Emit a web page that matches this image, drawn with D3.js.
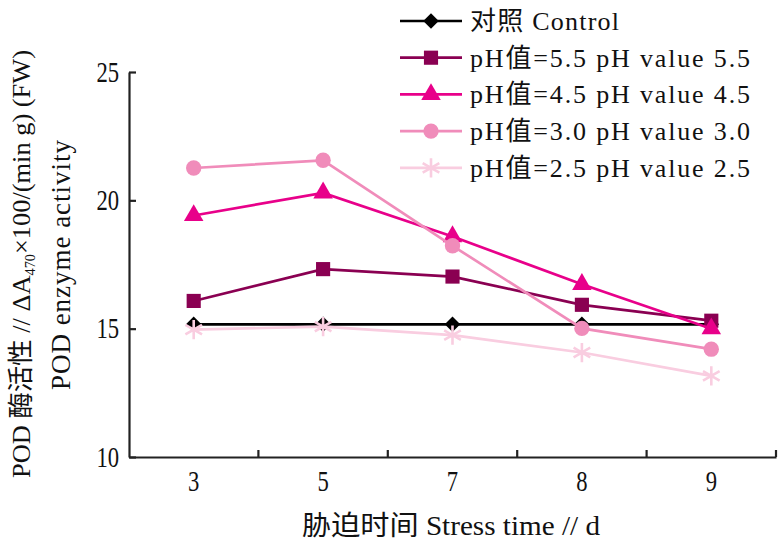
<!DOCTYPE html>
<html>
<head>
<meta charset="utf-8">
<script src="https://cdn.jsdelivr.net/npm/d3@7"></script>
<style>
  body { margin: 0; background: #fff; }
  text { font-family: "Liberation Serif", "Noto Sans CJK SC", serif; fill: #111; }
</style>
</head>
<body>
<script>
// stress days (categories)
var days = ["3", "5", "7", "8", "9"];
var yTicks = [10, 15, 20, 25];

// POD activity per treatment
var control = [15.17, 15.17, 15.17, 15.17, 15.17];
var ph55 = [16.08, 17.32, 17.03, 15.93, 15.31];
var ph45 = [19.41, 20.29, 18.59, 16.73, 15.0];
var ph30 = [21.26, 21.56, 18.23, 15.01, 14.2];
var ph25 = [14.96, 15.08, 14.75, 14.07, 13.16];

var legendNames = ["对照 Control", "pH值=5.5 pH value 5.5", "pH值=4.5 pH value 4.5",
  "pH值=3.0 pH value 3.0", "pH值=2.5 pH value 2.5"];

var series = [
  { name: legendNames[0], values: control, color: "#000000", shape: "diamond" },
  { name: legendNames[1], values: ph55, color: "#8a0052", shape: "square" },
  { name: legendNames[2], values: ph45, color: "#e8008a", shape: "triangle" },
  { name: legendNames[3], values: ph30, color: "#f08cba", shape: "circle" },
  { name: legendNames[4], values: ph25, color: "#f9cde0", shape: "asterisk" }
];

var W = 778, H = 544;
var svg = d3.select("body").append("svg").attr("width", W).attr("height", H);

var x = d3.scaleBand().domain(days).range([129, 776]);
var y = d3.scaleLinear().domain([10, 25]).range([457, 72]);

// squeeze text horizontally (narrow song-style glyphs)
function squeeze(sel, f) {
  sel.each(function () {
    var l = this.getComputedTextLength();
    d3.select(this).attr("textLength", l * f).attr("lengthAdjust", "spacingAndGlyphs");
  });
}

// x axis
var xAxis = svg.append("g")
  .attr("transform", `translate(0,${y(10)})`)
  .call(d3.axisBottom(x).tickSize(0).tickPadding(13));
xAxis.select(".domain").attr("stroke", "#222").attr("stroke-width", 2.2);
xAxis.selectAll("text").style("font-size", "29px").style("font-family", "Liberation Serif").call(squeeze, 0.78);
// tick marks at band boundaries, pointing up
xAxis.selectAll(".bt")
  .data(days.slice(1).concat(["end"]))
  .enter().append("line")
  .attr("class", "bt")
  .attr("x1", function (d, i) { return x(days[i]) + x.bandwidth(); })
  .attr("x2", function (d, i) { return x(days[i]) + x.bandwidth(); })
  .attr("y1", 0).attr("y2", -7)
  .attr("stroke", "#222").attr("stroke-width", 2.2);

// y axis
var yAxis = svg.append("g")
  .attr("transform", `translate(${x.range()[0]},0)`)
  .call(d3.axisLeft(y).tickValues(yTicks).tickSizeInner(-7).tickSizeOuter(0).tickPadding(10));
yAxis.select(".domain").attr("stroke", "#222").attr("stroke-width", 2.2);
yAxis.selectAll(".tick line").attr("stroke", "#222").attr("stroke-width", 2.2);
yAxis.selectAll("text").style("font-size", "29px").style("font-family", "Liberation Serif").call(squeeze, 0.78);

// symbols
function symbolPath(shape) {
  if (shape == "diamond") return d3.symbol().type(d3.symbolSquare).size(120)();
  if (shape == "square") return d3.symbol().type(d3.symbolSquare).size(200)();
  if (shape == "triangle") return d3.symbol().type(d3.symbolTriangle).size(165)();
  if (shape == "circle") return d3.symbol().type(d3.symbolCircle).size(185)();
  return d3.symbol().type(d3.symbolAsterisk).size(260)();
}
function drawMarker(g, s) {
  var p = g.append("path").attr("d", symbolPath(s.shape));
  if (s.shape == "asterisk") {
    p.attr("fill", "none").attr("stroke", s.color).attr("stroke-width", 2.6);
  } else {
    p.attr("fill", s.color);
  }
  if (s.shape == "diamond") p.attr("transform", "rotate(45)");
  return p;
}

var line = d3.line()
  .x(function (d, i) { return x(days[i]) + x.bandwidth() / 2; })
  .y(function (d) { return y(d); });

series.forEach(function (s) {
  var g = svg.append("g");
  g.append("path")
    .attr("d", line(s.values))
    .attr("fill", "none")
    .attr("stroke", s.color)
    .attr("stroke-width", 2.7);
  s.values.forEach(function (v, i) {
    var m = g.append("g")
      .attr("transform", `translate(${x(days[i]) + x.bandwidth() / 2},${y(v)})`);
    drawMarker(m, s);
  });
});

// legend
var legend = svg.append("g").attr("transform", "translate(400,21)");
series.forEach(function (s, i) {
  var row = legend.append("g").attr("transform", `translate(0,${i * 36.7})`);
  row.append("line").attr("x1", 0).attr("x2", 62).attr("y1", 0).attr("y2", 0)
    .attr("stroke", s.color).attr("stroke-width", 2.7);
  drawMarker(row.append("g").attr("transform", "translate(31,0)"), s);
  row.append("text")
    .attr("x", 70).attr("y", 9)
    .style("font-size", "26px")
    .attr("textLength", i == 0 ? 149 : 280)
    .attr("lengthAdjust", "spacing")
    .text(s.name);
});

// y axis title, two lines
var yt = svg.append("text")
  .attr("transform", "translate(30,264) rotate(-90)")
  .attr("text-anchor", "middle")
  .style("font-size", "26px");
yt.append("tspan").text("POD 酶活性 // ΔA");
yt.append("tspan").attr("dy", 5).style("font-size", "14px").text("470");
yt.append("tspan").attr("dy", -5).text("×100/(min g) (FW)");
yt.attr("textLength", 428).attr("lengthAdjust", "spacingAndGlyphs");

svg.append("text")
  .attr("transform", "translate(70,265) rotate(-90)")
  .attr("text-anchor", "middle")
  .style("font-size", "27px")
  .attr("textLength", 250)
  .attr("lengthAdjust", "spacing")
  .text("POD enzyme activity");

// x axis title
svg.append("text")
  .attr("x", 451).attr("y", 535)
  .attr("text-anchor", "middle")
  .style("font-size", "27px")
  .attr("textLength", 298)
  .attr("lengthAdjust", "spacingAndGlyphs")
  .text("胁迫时间 Stress time // d");
</script>
</body>
</html>
